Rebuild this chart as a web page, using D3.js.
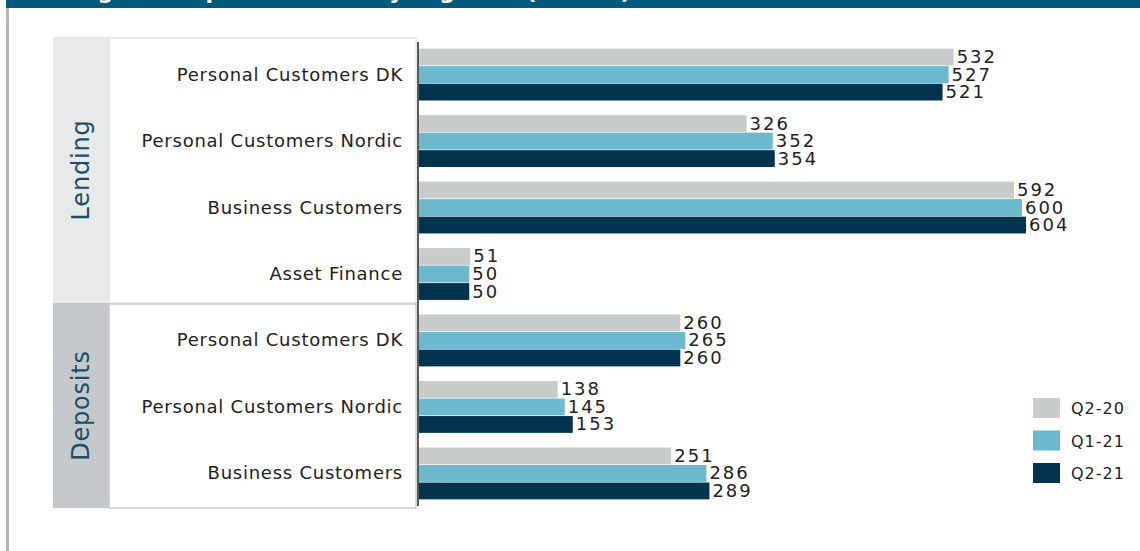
<!DOCTYPE html>
<html>
<head>
<meta charset="utf-8">
<script src="https://cdn.jsdelivr.net/npm/d3@7"></script>
<style>
  body { margin: 0; background: #fff; }
  svg { display: block; font-family: "DejaVu Sans", Roboto, sans-serif; }
</style>
</head>
<body>
<svg id="chart" width="1140" height="551"></svg>
<script>
var title = 'Lending and deposit volume by segment (DKKbn)';
var groups = ['Lending', 'Deposits'];
var categories = [
  'Personal Customers DK', 'Personal Customers Nordic', 'Business Customers', 'Asset Finance',
  'Personal Customers DK', 'Personal Customers Nordic', 'Business Customers'
];
var categoryGroup = ['Lending', 'Lending', 'Lending', 'Lending', 'Deposits', 'Deposits', 'Deposits'];
var seriesNames = ['Q2-20', 'Q1-21', 'Q2-21'];
var q220 = [532, 326, 592, 51, 260, 138, 251];
var q121 = [527, 352, 600, 50, 265, 145, 286];
var q221 = [521, 354, 604, 50, 260, 153, 289];

var colors = ['#c8cdcc', '#6cb8cf', '#02344f'];
var svg = d3.select('#chart');

// header bar, title mostly cut off at the top
svg.append('rect').attr('x', 6).attr('y', 0).attr('width', 1134).attr('height', 8).attr('fill', '#005a7c');
svg.append('text').attr('x', 14).attr('y', -1).attr('fill', '#fff')
  .style('font-size', '22px').style('font-weight', 'bold').text(title);
svg.append('rect').attr('x', 6).attr('y', 8).attr('width', 3).attr('height', 543).attr('fill', '#b4b6b8');

var rows = categories.map(function(c, i) {
  return { key: i, label: c, group: categoryGroup[i], values: [q220[i], q121[i], q221[i]] };
});

var x = d3.scaleLinear().domain([0, 604]).range([419, 1026]);
var y = d3.scaleBand().domain(d3.range(rows.length)).range([42, 506]).paddingInner(0.22).paddingOuter(0.1);
var ySub = d3.scaleBand().domain(d3.range(seriesNames.length)).range([0, y.bandwidth()]).paddingInner(0.04);

// group boxes
var boxes = [
  { name: 'Lending', y0: 37, y1: 303, fill: '#e8eaea', border: '#e4e6e6' },
  { name: 'Deposits', y0: 303, y1: 508, fill: '#c5c9cc', border: '#c8ccce' }
];
boxes.forEach(function(b) {
  svg.append('rect').attr('x', 53).attr('y', b.y0).attr('width', 56).attr('height', b.y1 - b.y0).attr('fill', b.fill);
  svg.append('rect').attr('x', 109).attr('y', b.y0 + 1).attr('width', 307).attr('height', b.y1 - b.y0 - 1)
    .attr('fill', '#fff').attr('stroke', b.border).attr('stroke-width', 1.5);
  svg.append('text')
    .attr('transform', 'translate(89,' + ((b.y0 + b.y1) / 2) + ') rotate(-90)')
    .attr('text-anchor', 'middle').attr('fill', '#1b4d6c')
    .style('font-size', '24px').style('letter-spacing', '0.8px').text(b.name);
});

// category labels
svg.selectAll('.cat').data(rows).enter().append('text')
  .attr('class', 'cat')
  .attr('x', 403)
  .attr('y', function(d) { return y(d.key) + y.bandwidth() / 2 + 6; })
  .attr('text-anchor', 'end').attr('fill', '#222')
  .style('font-size', '18px').style('letter-spacing', '0.75px').text(function(d) { return d.label; });

// bars
var g = svg.selectAll('.row').data(rows).enter().append('g')
  .attr('transform', function(d) { return 'translate(0,' + y(d.key) + ')'; });
g.selectAll('rect').data(function(d) { return d.values; }).enter().append('rect')
  .attr('x', x(0))
  .attr('y', function(d, i) { return ySub(i); })
  .attr('width', function(d) { return x(d) - x(0); })
  .attr('height', ySub.bandwidth())
  .attr('fill', function(d, i) { return colors[i]; });
g.selectAll('text').data(function(d) { return d.values; }).enter().append('text')
  .attr('x', function(d) { return x(d) + 3; })
  .attr('y', function(d, i) { return ySub(i) + ySub.bandwidth() / 2 + 6; })
  .attr('fill', '#222').style('font-size', '18px').style('letter-spacing', '2px')
  .text(function(d) { return d; });

// axis line
svg.append('line').attr('x1', 418).attr('x2', 418).attr('y1', 42).attr('y2', 506)
  .attr('stroke', '#222').attr('stroke-width', 1.5);

// legend
var legend = svg.selectAll('.leg').data(seriesNames).enter().append('g')
  .attr('transform', function(d, i) { return 'translate(1033,' + (398 + i * 32.5) + ')'; });
legend.append('rect').attr('width', 27).attr('height', 20).attr('fill', function(d, i) { return colors[i]; });
legend.append('text').attr('x', 38).attr('y', 16).attr('fill', '#222').style('font-size', '16px')
  .style('letter-spacing', '1px').text(function(d) { return d; });
</script>
</body>
</html>
